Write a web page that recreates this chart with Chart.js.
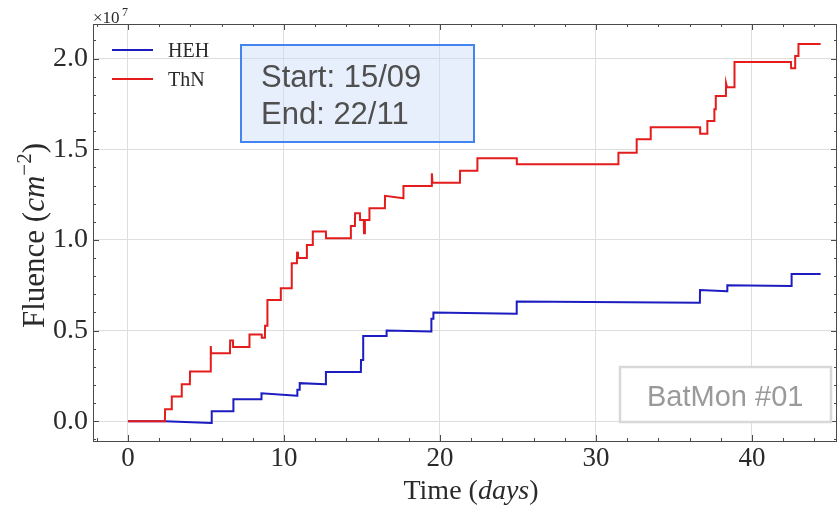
<!DOCTYPE html>
<html lang="en">
<head>
  <meta charset="UTF-8">
  <title>BatMon #01 - Fluence</title>
  <script src="https://cdn.jsdelivr.net/npm/chart.js"></script>
  <style>
    html, body { margin: 0; padding: 0; background: #fff; }
  </style>
</head>
<body>
  <canvas id="fluenceChart" width="838" height="507"></canvas>

  <script>
    // Time since start of the run (days) and cumulative fluence (x1e7 cm^-2)
    const hehDays = [0, 2.37, 5.36, 5.37, 6.75, 6.76, 8.55, 8.56, 10.85, 10.86, 11.0, 11.01, 12.68, 12.69,
      14.93, 14.94, 15.07, 15.08, 16.57, 16.58, 19.44, 19.45, 19.57, 19.58, 24.91, 24.92,
      36.66, 36.67, 38.41, 38.42, 42.53, 42.54, 44.4];
    const hehFluence = [0, 0, -0.01, 0.055, 0.055, 0.121, 0.121, 0.154, 0.141, 0.173, 0.173, 0.21, 0.204, 0.272,
      0.272, 0.338, 0.338, 0.47, 0.47, 0.5, 0.495, 0.565, 0.565, 0.6, 0.593, 0.66,
      0.654, 0.724, 0.717, 0.75, 0.746, 0.812, 0.812];

    const thnDays = [0, 2.37, 2.38, 2.8, 2.81, 3.44, 3.45, 3.97, 3.98, 5.3, 5.31, 5.33, 6.54, 6.55, 6.73, 6.74,
      7.78, 7.79, 8.57, 8.58, 8.78, 8.79, 8.93, 8.94, 9.79, 9.8, 10.49, 10.5, 10.83, 10.84, 10.9,
      11.46, 11.47, 11.84, 11.85, 12.69, 12.7, 14.28, 14.29, 14.55, 14.56, 14.87, 14.88, 15.12, 15.13,
      15.18, 15.19, 15.47, 15.48, 16.47, 16.48, 17.65, 17.66, 19.47, 19.48, 19.52, 21.28, 21.29,
      22.39, 22.4, 24.92, 24.93, 31.43, 31.44, 32.6, 32.61, 33.5, 33.51, 36.67, 36.68, 37.13, 37.14,
      37.58, 37.59, 37.67, 37.68, 38.33, 38.34, 38.4, 38.87, 38.88, 42.5, 42.51, 42.76, 42.77,
      42.97, 42.98, 44.4];
    const thnFluence = [0, 0, 0.066, 0.066, 0.136, 0.136, 0.204, 0.204, 0.274, 0.274, 0.415, 0.375, 0.375, 0.445, 0.445, 0.41,
      0.41, 0.478, 0.478, 0.46, 0.46, 0.526, 0.526, 0.669, 0.669, 0.734, 0.734, 0.871, 0.871, 0.935, 0.9,
      0.9, 0.972, 0.972, 1.046, 1.046, 1.009, 1.009, 1.077, 1.077, 1.147, 1.147, 1.11, 1.11, 1.037,
      1.037, 1.11, 1.11, 1.175, 1.175, 1.243, 1.23, 1.298, 1.298, 1.368, 1.316, 1.316, 1.382,
      1.382, 1.451, 1.451, 1.418, 1.418, 1.481, 1.481, 1.555, 1.555, 1.622, 1.622, 1.585, 1.585, 1.656,
      1.656, 1.721, 1.721, 1.794, 1.794, 1.864, 1.842, 1.842, 1.982, 1.982, 1.947, 1.947, 2.015,
      2.015, 2.081, 2.081];

    const xTicks = [0, 10, 20, 30, 40];
    const yTicks = [0.0, 0.5, 1.0, 1.5, 2.0];

    const SERIF = '"Liberation Serif", "DejaVu Serif", serif';
    const SANS = '"Liberation Sans", Arial, sans-serif';
    const AXIS_COLOR = '#4a4a4a';
    const TEXT_COLOR = '#2a2a2a';

    const toPoints = (xs, ys) => xs.map((x, i) => ({ x: x, y: ys[i] }));

    // frame, inward ticks, legend, axis titles and the two note boxes
    const decorations = {
      id: 'decorations',
      afterDraw(chart) {
        const ctx = chart.ctx;
        const area = chart.chartArea;
        const xs = chart.scales.x;
        const ys = chart.scales.y;
        ctx.save();

        // inward ticks on all four sides
        ctx.strokeStyle = AXIS_COLOR;
        ctx.lineWidth = 1;
        ctx.beginPath();
        for (let v = -2; v <= 45; v += 2) {
          const px = Math.round(xs.getPixelForValue(v)) + 0.5;
          if (px < area.left || px > area.right) continue;
          const len = v % 10 === 0 ? 6 : 3;
          ctx.moveTo(px, area.bottom); ctx.lineTo(px, area.bottom - len);
          ctx.moveTo(px, area.top); ctx.lineTo(px, area.top + len);
        }
        for (let i = -1; i <= 21; i++) {
          const py = Math.round(ys.getPixelForValue(i / 10)) + 0.5;
          if (py < area.top || py > area.bottom) continue;
          const len = i % 5 === 0 ? 6 : 3;
          ctx.moveTo(area.left, py); ctx.lineTo(area.left + len, py);
          ctx.moveTo(area.right, py); ctx.lineTo(area.right - len, py);
        }
        ctx.stroke();

        // frame
        ctx.strokeRect(area.left + 0.5, area.top + 0.5, area.right - area.left - 1, area.bottom - area.top);

        // offset label
        ctx.fillStyle = TEXT_COLOR;
        ctx.textBaseline = 'alphabetic';
        ctx.textAlign = 'left';
        ctx.font = '17px ' + SERIF;
        ctx.fillText('\u00d710', 93, 23);
        ctx.font = '12px ' + SERIF;
        ctx.fillText('7', 122, 16);

        // legend
        chart.data.datasets.forEach((ds, i) => {
          const y = 50 + i * 29;
          ctx.strokeStyle = ds.borderColor;
          ctx.lineWidth = 2;
          ctx.beginPath();
          ctx.moveTo(112, y); ctx.lineTo(153, y);
          ctx.stroke();
          ctx.fillStyle = TEXT_COLOR;
          ctx.font = '20px ' + SERIF;
          ctx.fillText(ds.label, 168, y + 7);
        });

        // y title: Fluence (cm^-2)
        const yParts = [
          { t: 'Fluence (', f: '31px ' + SERIF, dy: 0 },
          { t: 'cm', f: 'italic 31px ' + SERIF, dy: 0 },
          { t: '\u22122', f: '21px ' + SERIF, dy: -13 },
          { t: ')', f: '31px ' + SERIF, dy: 0 }
        ];
        drawParts(ctx, yParts, 44, (area.top + area.bottom) / 2 + 3, true);

        // x title: Time (days)
        const xParts = [
          { t: 'Time (', f: '28px ' + SERIF, dy: 0 },
          { t: 'days', f: 'italic 28px ' + SERIF, dy: 0 },
          { t: ')', f: '28px ' + SERIF, dy: 0 }
        ];
        drawParts(ctx, xParts, (area.left + area.right) / 2 + 6, 499, false);

        // run period note
        ctx.fillStyle = 'rgba(200, 216, 247, 0.42)';
        ctx.fillRect(241, 45, 233, 97);
        ctx.strokeStyle = '#4285f0';
        ctx.lineWidth = 2;
        ctx.strokeRect(241, 45, 233, 97);
        ctx.fillStyle = '#4f4f4f';
        ctx.font = '31px ' + SANS;
        ctx.fillText('Start: 15/09', 261, 87);
        ctx.fillText('End: 22/11', 261, 124);

        // device tag
        ctx.fillStyle = '#fff';
        ctx.fillRect(620, 367, 211, 55);
        ctx.strokeStyle = '#d8d8d8';
        ctx.lineWidth = 2.5;
        ctx.strokeRect(620, 367, 211, 55);
        ctx.fillStyle = '#9a9a9a';
        ctx.font = '29px ' + SANS;
        ctx.fillText('BatMon #01', 647, 406);

        ctx.restore();
      }
    };

    // draws mixed-style text centred on (cx, base); rotated for the vertical axis title
    function drawParts(ctx, parts, cx, cy, vertical) {
      let total = 0;
      parts.forEach(p => { ctx.font = p.f; p.w = ctx.measureText(p.t).width; total += p.w; });
      ctx.save();
      ctx.fillStyle = TEXT_COLOR;
      ctx.textAlign = 'left';
      ctx.textBaseline = 'alphabetic';
      ctx.translate(cx, cy);
      if (vertical) ctx.rotate(-Math.PI / 2);
      let x = -total / 2;
      parts.forEach(p => {
        ctx.font = p.f;
        ctx.fillText(p.t, x, p.dy);
        x += p.w;
      });
      ctx.restore();
    }

    new Chart(document.getElementById('fluenceChart'), {
      type: 'line',
      data: {
        datasets: [
          {
            label: 'HEH',
            data: toPoints(hehDays, hehFluence),
            borderColor: '#1c1cc0',
            borderWidth: 2,
            pointRadius: 0,
            tension: 0,
            order: 1
          },
          {
            label: 'ThN',
            data: toPoints(thnDays, thnFluence),
            borderColor: '#e41c1c',
            borderWidth: 2,
            pointRadius: 0,
            tension: 0,
            order: 0
          }
        ]
      },
      options: {
        responsive: false,
        animation: false,
        devicePixelRatio: 1,
        layout: { padding: { top: 24, right: 1, left: 0, bottom: 0 } },
        plugins: {
          legend: { display: false },
          tooltip: { enabled: false }
        },
        scales: {
          x: {
            type: 'linear',
            min: -2.24,
            max: 45.45,
            afterBuildTicks: scale => { scale.ticks = xTicks.map(v => ({ value: v })); },
            afterFit: scale => { scale.height = 66; },
            ticks: {
              font: { family: SERIF, size: 27 },
              color: TEXT_COLOR,
              padding: 2,
              maxRotation: 0,
              callback: v => String(v)
            },
            grid: { color: '#dedede', lineWidth: 1, drawTicks: false },
            border: { display: false }
          },
          y: {
            type: 'linear',
            min: -0.109,
            max: 2.191,
            afterBuildTicks: scale => { scale.ticks = yTicks.map(v => ({ value: v })); },
            afterFit: scale => { scale.width = 93; },
            ticks: {
              font: { family: SERIF, size: 28 },
              color: TEXT_COLOR,
              padding: 5,
              callback: v => v.toFixed(1)
            },
            grid: { color: '#dedede', lineWidth: 1, drawTicks: false },
            border: { display: false }
          }
        }
      },
      plugins: [decorations]
    });
  </script>
</body>
</html>
